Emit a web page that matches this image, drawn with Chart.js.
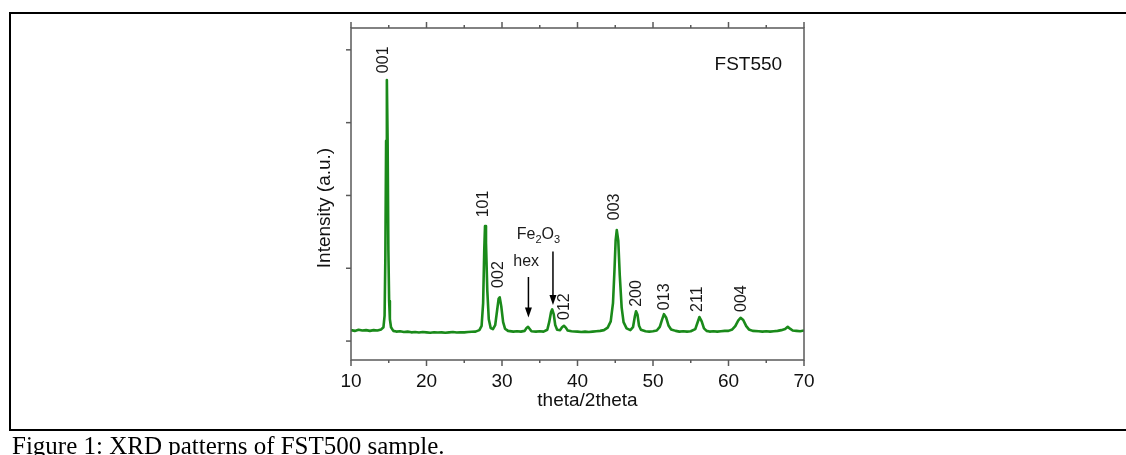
<!DOCTYPE html>
<html>
<head>
<meta charset="utf-8">
<script src="https://cdn.jsdelivr.net/npm/chart.js@4"></script>
<style>
  body { margin: 0; background: #fff; width: 1126px; height: 455px; overflow: hidden; position: relative; }
  #xrd { position: absolute; left: 0; top: 0; }
  .rule { position: absolute; background: #000; }
  #caption { position: absolute; left: 12px; top: 431px; font: 25px "Liberation Serif", "Times New Roman", serif; line-height: 30px; color: #000; white-space: nowrap; }
</style>
</head>
<body>
<div class="rule" style="left:9px; top:12px; width:1117px; height:2px;"></div>
<div class="rule" style="left:9px; top:12px; width:2px; height:419px;"></div>
<div class="rule" style="left:9px; top:429px; width:1117px; height:2px;"></div>
<canvas id="xrd" width="1126" height="455"></canvas>
<div id="caption">Figure 1: XRD patterns of FST500 sample.</div>
<script>
const twoTheta = [
  10.0, 10.5, 11.0, 11.5, 12.0, 12.5, 13.0, 13.5, 14.0, 14.3, 14.45, 14.55, 14.65, 14.75, 14.85, 14.95, 15.05, 15.15, 15.3, 15.6,
  16.0, 16.5, 17.0, 17.5, 18.0, 18.5, 19.0, 19.5, 20.0, 20.5, 21.0, 21.5, 22.0, 22.5, 23.0, 23.5, 24.0, 24.5, 25.0, 25.5,
  26.0, 26.5, 27.0, 27.3, 27.5, 27.65, 27.75, 27.88, 28.05, 28.25, 28.5, 28.8, 29.1, 29.35, 29.55, 29.7, 29.9, 30.15, 30.4, 30.8,
  31.5, 32.0, 32.5, 33.0, 33.25, 33.45, 33.65, 33.9, 34.5, 35.0, 35.5, 36.0, 36.25, 36.5, 36.65, 36.85, 37.05, 37.3, 37.7, 37.95,
  38.2, 38.45, 38.7, 39.2, 40.0, 40.5, 41.0, 41.5, 42.0, 42.5, 43.0, 43.5, 44.0, 44.4, 44.7, 44.9, 45.05, 45.2, 45.4, 45.6,
  45.85, 46.1, 46.5, 47.0, 47.35, 47.6, 47.75, 47.95, 48.15, 48.4, 49.0, 49.5, 50.0, 50.5, 50.9, 51.2, 51.45, 51.75, 52.05, 52.4,
  53.0, 53.5, 54.0, 54.5, 55.0, 55.6, 55.9, 56.15, 56.45, 56.75, 57.1, 57.5, 58.0, 58.5, 59.0, 59.5, 60.0, 60.5, 60.9, 61.3,
  61.6, 61.95, 62.35, 62.7, 63.2, 64.0, 64.5, 65.0, 65.5, 66.0, 66.5, 67.0, 67.5, 67.85, 68.15, 68.5, 69.0, 69.5, 70.0
];
const intensity = [
  1150, 1140, 1155, 1145, 1150, 1140, 1150, 1145, 1160, 1190, 1350, 2150, 3750, 4585, 3750, 2250, 1550, 1300, 1190, 1140,
  1130, 1135, 1125, 1130, 1120, 1125, 1118, 1125, 1120, 1115, 1122, 1118, 1120, 1115, 1120, 1125, 1118, 1122, 1120, 1125,
  1128, 1130, 1150, 1210, 1520, 2250, 2580, 2350, 1700, 1300, 1180, 1165, 1220, 1420, 1580, 1600, 1480, 1260, 1170, 1140,
  1130, 1135, 1130, 1140, 1180, 1196, 1170, 1135, 1130, 1135, 1130, 1155, 1260, 1400, 1435, 1370, 1220, 1155, 1150, 1190,
  1210, 1185, 1145, 1135, 1130, 1125, 1130, 1125, 1130, 1135, 1140, 1150, 1185, 1270, 1520, 1980, 2380, 2525, 2380, 1900,
  1460, 1260, 1175, 1150, 1190, 1340, 1410, 1360, 1210, 1155, 1135, 1130, 1135, 1145, 1195, 1295, 1370, 1320, 1215, 1160,
  1140, 1130, 1135, 1130, 1135, 1165, 1255, 1330, 1270, 1175, 1140, 1130, 1135, 1130, 1135, 1140, 1140, 1160, 1205, 1285,
  1320, 1290, 1205, 1160, 1140, 1135, 1130, 1135, 1130, 1135, 1140, 1150, 1165, 1195, 1170, 1145, 1140, 1135, 1145
];

// ejes
const xTickValues = [10, 15, 20, 25, 30, 35, 40, 45, 50, 55, 60, 65, 70];
const yTickValues = [1000, 2000, 3000, 4000, 5000];

// indices hkl (texto vertical)
const hklLabels = ['001', '101', '002', '012', '003', '200', '013', '211', '004'];
const hklX = [14.3, 27.6, 29.6, 38.35, 44.95, 47.85, 51.6, 55.95, 61.75];
const hklY = [4680, 2700, 1730, 1290, 2660, 1470, 1425, 1400, 1400];

// flechas (hex y Fe2O3)
const arrowX = [33.5, 36.75];
const arrowFrom = [1880, 2230];
const arrowTo = [1325, 1495];

const lineGreen = '#1a8a1a';
const axisGray = '#5a5a5a';
const sansFont = '"Liberation Sans", Arial, sans-serif';

function seg(ctx, x1, y1, x2, y2) {
  ctx.beginPath();
  ctx.moveTo(x1, y1);
  ctx.lineTo(x2, y2);
  ctx.stroke();
}

// Dibuja marco, ticks, titulos y anotaciones
const xrdDecor = {
  id: 'xrdDecor',
  afterDraw(chart) {
    const { ctx, chartArea: a, scales: { x, y } } = chart;
    ctx.save();
    ctx.strokeStyle = axisGray;
    ctx.lineWidth = 1.5;
    ctx.strokeRect(a.left, a.top, a.width, a.height);

    xTickValues.forEach(v => {
      const px = x.getPixelForValue(v);
      const len = v % 10 === 0 ? 6 : 3;
      seg(ctx, px, a.bottom, px, a.bottom + len);
      seg(ctx, px, a.top, px, a.top - len);
    });
    yTickValues.forEach(v => {
      const py = y.getPixelForValue(v);
      seg(ctx, a.left - 5, py, a.left, py);
    });

    // titulos de ejes
    ctx.fillStyle = '#111';
    ctx.font = '19px ' + sansFont;
    ctx.textAlign = 'center';
    ctx.textBaseline = 'middle';
    ctx.fillText('theta/2theta', a.left + a.width / 2 + 10, a.bottom + 41);
    ctx.save();
    ctx.translate(a.left - 26, a.top + a.height / 2 + 14);
    ctx.rotate(-Math.PI / 2);
    ctx.fillText('Intensity (a.u.)', 0, 0);
    ctx.restore();

    // nombre de la muestra
    ctx.textAlign = 'right';
    ctx.fillText('FST550', x.getPixelForValue(67.1), y.getPixelForValue(4790));

    // hkl
    ctx.fillStyle = '#1a1a1a';
    ctx.font = '16px ' + sansFont;
    hklLabels.forEach((t, i) => {
      ctx.save();
      ctx.translate(x.getPixelForValue(hklX[i]), y.getPixelForValue(hklY[i]));
      ctx.rotate(-Math.PI / 2);
      ctx.textAlign = 'left';
      ctx.textBaseline = 'middle';
      ctx.fillText(t, 0, 0);
      ctx.restore();
    });

    // hex
    ctx.textAlign = 'center';
    ctx.textBaseline = 'middle';
    ctx.fillText('hex', x.getPixelForValue(33.2), y.getPixelForValue(2085));

    // Fe2O3 con subindices
    let fx = x.getPixelForValue(31.95);
    const fy = y.getPixelForValue(2400);
    ctx.textAlign = 'left';
    ctx.textBaseline = 'alphabetic';
    [['Fe', 16, 0], ['2', 11, 4], ['O', 16, 0], ['3', 11, 4]].forEach(([t, size, dy]) => {
      ctx.font = size + 'px ' + sansFont;
      ctx.fillText(t, fx, fy + dy);
      fx += ctx.measureText(t).width;
    });

    // flechas
    ctx.strokeStyle = '#000';
    ctx.fillStyle = '#000';
    ctx.lineWidth = 1.5;
    arrowX.forEach((v, i) => {
      const px = x.getPixelForValue(v);
      const y1 = y.getPixelForValue(arrowFrom[i]);
      const y2 = y.getPixelForValue(arrowTo[i]);
      seg(ctx, px, y1, px, y2 - 8);
      ctx.beginPath();
      ctx.moveTo(px - 3.5, y2 - 10);
      ctx.lineTo(px + 3.5, y2 - 10);
      ctx.lineTo(px, y2);
      ctx.closePath();
      ctx.fill();
    });
    ctx.restore();
  }
};

new Chart(document.getElementById('xrd'), {
  type: 'line',
  data: {
    datasets: [{
      data: twoTheta.map((v, i) => ({ x: v, y: intensity[i] })),
      borderColor: lineGreen,
      borderWidth: 2.6,
      borderJoinStyle: 'round',
      pointRadius: 0,
      tension: 0,
      fill: false
    }]
  },
  options: {
    responsive: false,
    animation: false,
    devicePixelRatio: 1,
    layout: { padding: { left: 351, right: 322, top: 28, bottom: 45 } },
    plugins: { legend: { display: false }, tooltip: { enabled: false } },
    scales: {
      x: {
        type: 'linear',
        min: 10,
        max: 70,
        grid: { display: false },
        border: { display: false },
        afterFit(scale) { scale.height = 50; },
        ticks: {
          stepSize: 5,
          autoSkip: false,
          maxRotation: 0,
          padding: 2,
          color: '#111',
          font: { family: sansFont, size: 19 },
          callback: v => (v % 10 === 0 ? v : '')
        }
      },
      y: {
        min: 740,
        max: 5300,
        grid: { display: false },
        border: { display: false },
        ticks: { display: false },
        afterFit(scale) { scale.width = 0; }
      }
    }
  },
  plugins: [xrdDecor]
});
</script>
</body>
</html>
